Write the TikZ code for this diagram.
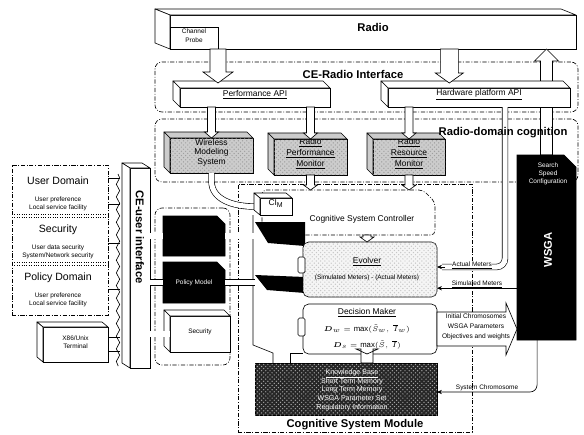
\documentclass[tikz,border=0pt]{standalone}
\usepackage{amsmath}
\usepackage{fontspec}
\setmainfont{Liberation Sans}
\usetikzlibrary{positioning, calc, fit, patterns, decorations.pathmorphing, arrows.meta}

\newcommand{\ftitle}{\fontsize{8}{9.6}\selectfont\bfseries}
\newcommand{\fuser}{\fontsize{7.5}{9}\selectfont}
\newcommand{\fmain}{\fontsize{6}{7.2}\selectfont}
\newcommand{\fnote}{\fontsize{4.6}{5.8}\selectfont}

\tikzset{
  panel/.style={draw, dash pattern=on 3pt off 1.2pt on 0.6pt off 1.2pt, line width=0.45pt,
    rounded corners=5pt, inner sep=0pt, outer sep=0pt},
  dashline/.style={dash pattern=on 3pt off 1.2pt on 0.6pt off 1.2pt, line width=0.45pt},
  frontbox/.style={draw, fill=white, line width=0.45pt, inner sep=0pt, outer sep=0pt, align=center},
  graybox/.style={frontbox, fill=gray!40, postaction={pattern=crosshatch dots, pattern color=gray!75}},
  hidden/.style={inner sep=0pt, outer sep=0pt},
  pipe/.style={draw, double=white, double distance=3.6pt, line width=0.45pt},
  blockarrow/.style={draw, fill=white, line width=0.45pt, line join=miter},
  thinarrow/.style={-{Stealth[length=3.5pt, width=3pt]}, line width=0.45pt},
  wavy/.style={decorate, decoration={snake, amplitude=1.2pt, segment length=9pt}, line width=0.45pt}
}

% top and left faces of a box seen from the upper left
\newcommand{\sidefaces}[4]{%
  \filldraw[fill=#4, line width=0.45pt, line join=round] (#1.north west) -- ++(-#2,-#3)
    -- ($(#1.north east)+(-#2,-#3)$) -- (#1.north east) -- cycle;
  \filldraw[fill=#4, line width=0.45pt, line join=round] (#1.north west) -- ++(-#2,-#3)
    -- ($(#1.south west)+(-#2,-#3)$) -- (#1.south west) -- cycle;}
% box with its upper right corner cut off
\newcommand{\chamfer}[3]{%
  \path[#3] (#1.north west) -- ($(#1.north east)+(-#2,0)$) -- ($(#1.north east)+(0,#2)$)
    -- (#1.south east) -- (#1.south west) -- cycle;}
% hollow block arrow, vertical
\newcommand{\blockarr}[5]{%
  \draw[blockarrow] ($(#1)+(-#3,0)$) -- ($(#2)+(-#3,{-(#5)})$) -- ($(#2)+(-#4,{-(#5)})$) -- (#2)
    -- ($(#2)+(#4,{-(#5)})$) -- ($(#2)+(#3,{-(#5)})$) -- ($(#1)+(#3,0)$) -- cycle;}
% hollow block arrow, horizontal
\newcommand{\blockarrh}[5]{%
  \draw[blockarrow] ($(#1)+(0,-#3)$) -- ($(#2)+({-(#5)},-#3)$) -- ($(#2)+({-(#5)},-#4)$) -- (#2)
    -- ($(#2)+({-(#5)},#4)$) -- ($(#2)+({-(#5)},#3)$) -- ($(#1)+(0,#3)$) -- cycle;}

\begin{document}
\begin{tikzpicture}[x=0.025cm, y=-0.025cm]
  \useasboundingbox[fill=white] (0,0) rectangle (584,434);

  % Frames
  \node[panel, rounded corners=0pt, fit={(238,184)(472,432)}] (csm) {};
  \node[panel, fit={(155,62)(578,112)}] (ceradio) {};
  \node[panel, fit={(155,119)(578,182)}] (rdc) {};
  \node[panel, rounded corners=0pt, fit={(12,165)(108,315)}] (userbox) {};
  \node[panel, fit={(155,208)(230,365)}] (leftgrp) {};
  \node[font=\ftitle] (ceradiolbl) at (353,74) {CE-Radio Interface};
  \node[font=\ftitle] (csmlbl) at (355,425) {Cognitive System Module};

  % Radio
  \node[frontbox, fit={(170,15)(576,49)}, font=\ftitle] (radio) {Radio};
  \sidefaces{radio}{15}{6}{white}
  \node[frontbox, fit={(170,27)(218,49)}, font=\fnote] (probe) {Channel\\Probe};

  % WSGA (outline drawn later), arrow up to the radio
  \node[hidden, fit={(517,155)(576,340)}] (wsga) {};
  \blockarr{wsga.north}{wsga.north |- radio.south}{6}{12}{-12}

  % APIs
  \node[frontbox, fit={(180,88)(330,107)}, font=\fmain] (perfapi) {\underline{Performance API}};
  \sidefaces{perfapi}{7}{7}{white}
  \node[frontbox, fit={(388,88)(570,107)}, font=\fmain] (hwapi) {\underline{Hardware platform API}};
  \sidefaces{hwapi}{7}{7}{white}
  \coordinate (probeout) at (probe.south east);
  \coordinate (probein) at ($(probeout |- perfapi.north)+(0,-5)$);
  \blockarr{probeout}{probein}{8}{15}{11}
  \coordinate (radioout) at ($(radio.south west)!0.688!(radio.south east)$);
  \coordinate (radioin) at ($(radioout |- hwapi.north)+(0,-5)$);
  \blockarr{radioout}{radioin}{9}{14}{10}

  % Radio-domain cognition
  \node[graybox, fit={(170,138)(253,173)}, font=\fontsize{6}{6.8}\selectfont] (wms) {Wireless\\Modeling\\System};
  \sidefaces{wms}{6}{6}{gray!40}
  \node[graybox, fit={(274,139)(347,175)}, font=\fontsize{6}{7.8}\selectfont] (rpm)
    {\underline{Radio}\\\underline{Performance}\\\underline{Monitor}};
  \sidefaces{rpm}{6}{6}{gray!40}
  \node[graybox, fit={(373,139)(445,175)}, font=\fontsize{6}{7.8}\selectfont] (rrm)
    {\underline{Radio}\\\underline{Resource}\\\underline{Monitor}};
  \sidefaces{rrm}{6}{6}{gray!40}
  \blockarr{wms.north |- perfapi.south}{wms.north}{4}{7}{6}
  \blockarr{rpm.north |- perfapi.south}{rpm.north}{4}{7}{6}
  \blockarr{rrm.north |- hwapi.south}{rrm.north}{4}{7}{6}

  % User side
  \node[font=\fuser] (udom) at (58,181) {User Domain};
  \node[font=\fnote, align=center] (udomtxt) at (58,204) {User preference\\Local service facility};
  \node[font=\fuser] (usec) at (58,230) {Security};
  \node[font=\fnote, align=center] (usectxt) at (58,252) {User data security\\System/Network security};
  \node[font=\fuser] (upol) at (58,278) {Policy Domain};
  \node[font=\fnote, align=center] (upoltxt) at (58,300) {User preference\\Local service facility};
  \foreach \f in {0.33,0.35,0.65,0.67}
    \draw[densely dotted, line width=0.7pt] ($(userbox.north west)!\f!(userbox.south west)$)
      -- ($(userbox.north east)!\f!(userbox.south east)$);
  \node[frontbox, fit={(130,168)(150,368)}] (ceuser) {};
  \sidefaces{ceuser}{8}{5}{white}
  \node[rotate=-90, font=\ftitle] (ceuserlbl) at (140,237) {CE-user interface};
  \node[frontbox, fit={(43,327)(108,362)}, font=\fnote] (x86) {X86/Unix\\Terminal};
  \sidefaces{x86}{6}{5}{white}
  \foreach \f in {0.09,0.26,0.52,0.83}
    \draw[line width=0.45pt] ($(userbox.north east)!\f!(userbox.south east)$) -- ++(12,0);
  \foreach \f in {0.3,0.7}
    \draw[line width=0.45pt] ($(x86.north east)!\f!(x86.south east)$) -- ++(12,0);
  \draw[wavy] ($(ceuser.north west)+(-12,6)$) -- ($(ceuser.south west)+(-12,-2)$);

  % Left group
  \node[hidden, fit={(163,216)(225,256)}] (blankbox) {};
  \chamfer{blankbox}{8}{fill=black, draw=black}
  \node[hidden, fit={(163,262)(225,303)}] (policy) {};
  \chamfer{policy}{8}{fill=black, draw=black}
  \node[text=white, font=\fnote] (policylbl) at (policy) {Policy Model};
  \node[frontbox, fit={(170,316)(230,352)}, font=\fnote] (sec) {Security};
  \sidefaces{sec}{6}{6}{white}
  \draw[pipe] (ceuser.east |- blankbox.west) -- (blankbox.west);
  \draw[pipe] (ceuser.east |- policy.west) -- (policy.west);
  \draw[pipe] (ceuser.east |- sec.west) -- (sec.west);

  % Cognitive system module
  \node[hidden, fit={(262,190)(435,235)}] (csc) {};
  \chamfer{csc}{12}{dashline, draw, fill=white, rounded corners=3pt}
  \node[font=\fmain] (csclbl) at (362,219) {Cognitive System Controller};
  \blockarr{rpm.south}{rpm.south |- csc.north}{4}{7}{5}
  \blockarr{rrm.south}{rrm.south |- csc.north}{4}{7}{5}
  \draw[line width=0.45pt] (253,215) -- (253,345) -- (273,353) -- (273,363);
  \draw[line width=0.45pt] (290,363) -- (290,353) -- (303,353);
  \fill (255,222) -- (305,222) -- (305,246) -- (268,243) -- cycle;
  \fill (255,275) -- (305,277) -- (305,293) -- (267,290) -- cycle;
  \draw[pipe] (blankbox.east) -- (blankbox.east -| 255,0);
  \draw[pipe] (policy.east) -- (policy.east -| 255,0);
  \node[frontbox, fit={(260,198)(292,215)}, font=\fmain] (ci) {CI$_{\mathrm{M}}$};
  \draw[pipe] (wms.south) -- ++(0,8) to[out=-90, in=180] ($(ci.west)+(-6,0)$);
  \sidefaces{ci}{6}{5}{white}

  \node[draw, line width=0.45pt, rounded corners=4pt, fill=gray!8,
    postaction={pattern=crosshatch dots, pattern color=gray!45}, hidden, fit={(303,242)(437,297)}] (evolver) {};
  \node[font=\fmain] (evlbl) at (367,262) {\underline{Evolver}};
  \node[font=\fnote] (evfx) at (367,278) {(Simulated Meters) - (Actual Meters)};
  \node[draw, line width=0.45pt, fill=white, rounded corners=4pt, hidden, fit={(303,304)(437,354)}] (dm) {};
  \node[font=\fmain] (dmlbl) at (367,313) {\underline{Decision Maker}};
  \node[font=\fontsize{5.5}{6}\selectfont, inner sep=0pt] (dmfw) at (367,329) {$\boldsymbol{D}_{w} = \max(\tilde{S}_{w},\ \overline{I}_{w})$};
  \node[font=\fontsize{5.5}{6}\selectfont, inner sep=0pt] (dmfs) at (367,345) {$\boldsymbol{D}_{s} = \max(\tilde{S},\ \overline{I})$};
  \node[draw, line width=0.45pt, fill=black!85,
    postaction={pattern=crosshatch dots, pattern color=gray!70}, hidden, fit={(255,363)(437,415)}] (kb) {};
  \node[text=white, font=\fontsize{5}{6.2}\selectfont, align=center] (kblbl) at (352,390)
    {\underline{Knowledge Base}\\Short Term Memory\\Long Term Memory\\WSGA Parameter Set\\Regulatory Information};
  \node[draw, fill=white, rounded corners=1pt, hidden, fit={(298,257)(305,273)}] (evlink) {};
  \node[draw, fill=white, rounded corners=1pt, hidden, fit={(298,318)(305,336)}] (dmlink) {};
  \blockarr{evlbl |- csc.south}{evlbl |- evolver.north}{4}{7}{5}
  \blockarr{dmlbl |- kb.north}{dmlbl |- dm.south}{6}{11}{5}

  % Meters and chromosomes
  \coordinate (hwtap) at ($(hwapi.south west)!0.643!(hwapi.south east)$);
  \coordinate (actual) at ($(hwtap)+(0,160)$);
  \draw[pipe, rounded corners=6pt] (hwtap) -- (actual) -- ($(actual -| evolver.east)+(5,0)$);
  \draw[thinarrow] ($(actual -| evolver.east)+(8,0)$) -- (actual -| evolver.east);
  \node[font=\fnote, fill=white, inner sep=0.5pt] (actuallbl) at (472,265) {\underline{Actual Meters}};
  \node[font=\ftitle] (rdclbl) at (503,133) {Radio-domain cognition};

  \chamfer{wsga}{12}{fill=black, draw=black}
  \node[rotate=90, text=white, font=\ftitle] (wsgalbl) at (548,250) {WSGA};
  \node[text=white, font=\fnote, align=center] (sscfg) at (548,174) {Search\\Speed\\Configuration};

  \coordinate (simout) at ($(wsga.north west)!0.72!(wsga.south west)$);
  \draw[thinarrow] (simout) -- (simout -| evolver.east)
    node[midway, above=0pt, font=\fnote, inner sep=0.5pt] (simlbl) {\underline{Simulated Meters}};
  \blockarrh{dm.east}{dm.east -| wsga.west}{17}{26}{11}
  \node[font=\fontsize{4.7}{7}\selectfont, align=center] (initlbl) at (476,327)
    {Initial Chromosomes\\WSGA Parameters\\Objectives and weights};
  \coordinate (sysout) at ($(wsga.south west)!0.34!(wsga.south east)$);
  \coordinate (systurn) at ($(sysout)+(0,52)$);
  \draw[thinarrow, rounded corners=5pt] (sysout) -- (systurn) -- (systurn -| kb.east);
  \node[font=\fnote, above=0pt, inner sep=0.5pt] (syslbl) at ($(systurn)!0.5!(systurn -| kb.east)$) {System Chromosome};
\end{tikzpicture}
\end{document}
